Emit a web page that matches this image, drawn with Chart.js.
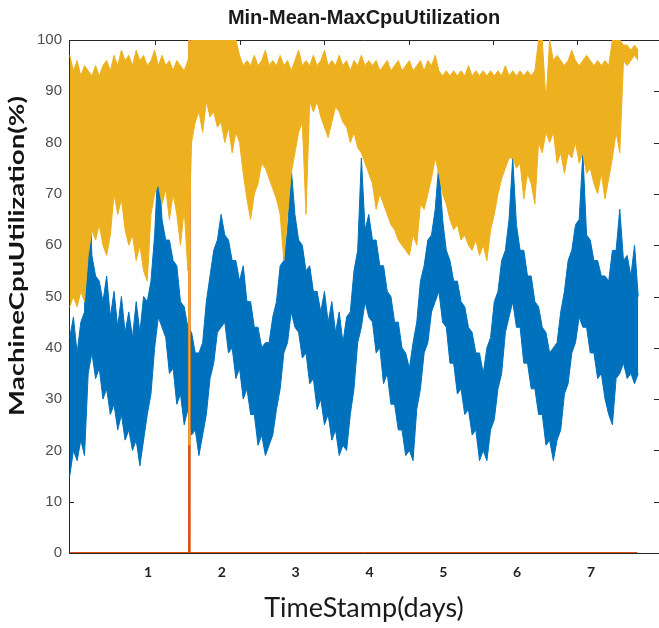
<!DOCTYPE html>
<html>
<head>
<meta charset="utf-8">
<title>Min-Mean-MaxCpuUtilization</title>
<script src="https://cdn.jsdelivr.net/npm/chart.js@4.4.1/dist/chart.umd.min.js"></script>
<style>
  body { margin: 0; background: #fff; }
</style>
</head>
<body>
<canvas id="cpuChart" width="659" height="628"></canvas>
<script>
// one sample every 0.05 day, first one just before day 0
const sampleStart = -0.06;
const sampleStep = 0.05;

// mean cpu: lower / upper edge of the noisy band
const meanLow = [
  15, 20, 18, 22, 19, 35, 39, 34, 36, 30,
  32, 27, 29, 24, 27, 22, 24, 20, 22, 17,
  22, 27, 31, 40, 46, 44, 42, 35, 36, 29,
  31, 25, 28, 23, 24, 19, 23, 27, 34, 37,
  43, 44, 45, 39, 40, 34, 36, 30, 32, 27,
  27, 21, 23, 19, 21, 23, 28, 32, 39, 41,
  47, 44, 43, 38, 39, 33, 34, 28, 30, 25,
  27, 22, 24, 19, 21, 20, 27, 32, 41, 44,
  49, 46, 45, 39, 40, 33, 35, 29, 29, 24,
  24, 19, 20, 18, 28, 32, 39, 41, 47, 49,
  51, 45, 44, 37, 37, 31, 32, 27, 28, 23,
  24, 18, 20, 18, 24, 26, 32, 35, 43, 46,
  49, 44, 44, 37, 37, 32, 32, 27, 27, 21,
  22, 18, 22, 24, 31, 33, 39, 41, 46, 44,
  44, 39, 39, 34, 35, 30, 27, 25, 34, 35,
  37, 34, 35, 33, 35
];
const meanHigh = [
  42, 46, 39, 45, 47, 77, 58, 54, 53, 49,
  54, 46, 51, 44, 50, 43, 47, 42, 49, 43,
  50, 49, 53, 62, 77, 65, 61, 61, 57, 56,
  49, 48, 44, 43, 39, 39, 41, 49, 54, 59,
  61, 66, 62, 61, 57, 57, 53, 56, 49, 49,
  44, 44, 40, 41, 41, 46, 49, 56, 57, 63,
  75, 66, 61, 60, 55, 56, 51, 51, 47, 51,
  45, 49, 43, 47, 41, 46, 47, 55, 59, 77,
  63, 66, 61, 61, 56, 56, 51, 50, 45, 45,
  40, 39, 36, 41, 45, 53, 56, 61, 62, 67,
  76, 65, 59, 57, 53, 53, 49, 48, 44, 43,
  39, 39, 35, 40, 42, 49, 51, 57, 59, 65,
  77, 64, 59, 59, 54, 54, 49, 48, 44, 43,
  39, 40, 41, 47, 51, 57, 59, 64, 65, 78,
  62, 61, 57, 57, 54, 54, 53, 59, 59, 67,
  57, 58, 54, 60, 50
];

// max cpu: lower / upper edge of the band
const maxLow = [
  48, 50, 48, 51, 49, 58, 63, 61, 64, 60,
  58, 62, 70, 66, 69, 63, 60, 62, 57, 60,
  55, 53, 66, 70, 72, 68, 71, 65, 70, 66,
  60, 67, 55, 80, 84, 86, 82, 88, 85, 86,
  83, 84, 80, 83, 78, 82, 80, 74, 69, 65,
  70, 72, 76, 75, 73, 71, 69, 66, 57, 66,
  74, 78, 82, 84, 66, 88, 86, 88, 85, 83,
  81, 84, 87, 86, 84, 83, 80, 82, 79, 78,
  76, 74, 72, 67, 70, 68, 66, 64, 63, 61,
  60, 59, 58, 62, 60, 68, 67, 70, 73, 77,
  74, 70, 68, 65, 63, 64, 61, 62, 60, 59,
  61, 58, 60, 57, 63, 66, 70, 73, 75, 77,
  77, 75, 76, 69, 74, 72, 68, 80, 78, 82,
  80, 82, 76, 78, 74, 78, 77, 80, 76, 78,
  74, 75, 72, 70, 74, 69, 73, 77, 82, 78,
  96, 95, 96, 97, 96
];
const maxHigh = [
  97, 94, 96, 93, 95, 94, 93, 95, 93, 95,
  96, 94, 97, 95, 98, 96, 97, 95, 98, 96,
  97, 95, 96, 98, 95, 97, 95, 96, 94, 96,
  95, 94, 96, 100, 100, 100, 100, 100, 100, 100,
  100, 100, 100, 100, 100, 100, 97, 95, 96, 95,
  97, 95, 96, 98, 95, 96, 95, 97, 95, 96,
  94, 96, 98, 95, 96, 95, 97, 95, 96, 98,
  95, 96, 95, 97, 95, 96, 94, 96, 95, 97,
  95, 96, 95, 96, 94, 95, 96, 94, 95, 96,
  94, 95, 96, 94, 95, 96, 94, 96, 95, 97,
  94, 93, 94, 93, 94, 93, 94, 93, 95, 93,
  94, 93, 94, 93, 94, 93, 94, 93, 95, 93,
  94, 93, 94, 93, 94, 93, 94, 100, 100, 88,
  100, 96, 97, 96, 95, 96, 98, 96, 95, 96,
  97, 96, 95, 96, 95, 96, 95, 100, 100, 100,
  99, 99, 98, 99, 98
];

// min cpu stays at 0 except for one spike
const minDays = [-0.06, 1.555, 1.56, 1.565, 7.63];
const minValues = [0, 0, 100, 0, 0];

// the max series drops once at the same moment
const maxDipDays = [1.56, 1.56];
const maxDipValues = [100, 21];

const dayLabels = [1, 2, 3, 4, 5, 6, 7];
const topTickDays = [1.10, 2.24, 3.39, 4.53, 5.67, 6.81];
const yTickValues = [0, 10, 20, 30, 40, 50, 60, 70, 80, 90, 100];

const BLUE = '#0072BD';
const RED = '#D95319';
const YELLOW = '#EDB120';
const AXIS = '#262626';

const days = meanHigh.map((_, i) => +(sampleStart + i * sampleStep).toFixed(2));
const toPoints = (xs, ys) => ys.map((y, i) => ({ x: xs[i], y: y }));

function bandLine(label, data, color, order, fill) {
  return {
    label: label,
    data: data,
    borderColor: color,
    backgroundColor: color,
    borderWidth: 1,
    pointRadius: 0,
    tension: 0,
    fill: fill,
    order: order
  };
}

// box lines and inward tick marks, like matlab's "box on"
const axesFrame = {
  id: 'axesFrame',
  beforeDatasetsDraw(chart) {
    const { ctx, chartArea: a, scales } = chart;
    ctx.save();
    ctx.strokeStyle = AXIS;
    ctx.lineWidth = 1;
    ctx.beginPath();
    ctx.moveTo(a.right, a.top + 0.5);
    ctx.lineTo(a.left + 0.5, a.top + 0.5);
    ctx.lineTo(a.left + 0.5, a.bottom + 0.5);
    ctx.lineTo(a.right, a.bottom + 0.5);
    yTickValues.forEach(v => {
      const py = Math.round(scales.y.getPixelForValue(v)) + 0.5;
      ctx.moveTo(a.left, py);
      ctx.lineTo(a.left + 5, py);
      ctx.moveTo(a.right, py);
      ctx.lineTo(a.right - 5, py);
    });
    topTickDays.forEach(d => {
      const px = Math.round(scales.x.getPixelForValue(d)) + 0.5;
      ctx.moveTo(px, a.top);
      ctx.lineTo(px, a.top + 5);
    });
    ctx.stroke();
    ctx.restore();
  },
  afterDraw(chart) {
    const ctx = chart.ctx;
    const text = 'MachineCpuUtilization(%)';
    ctx.save();
    ctx.font = 'bold 21px Lato';
    const w = ctx.measureText(text).width;
    ctx.translate(17, 256);
    ctx.rotate(-Math.PI / 2);
    ctx.scale(320 / w, 1);
    ctx.textAlign = 'center';
    ctx.textBaseline = 'middle';
    ctx.fillStyle = '#141414';
    ctx.fillText(text, 0, 0);
    ctx.restore();
  }
};

new Chart(document.getElementById('cpuChart').getContext('2d'), {
  type: 'line',
  data: {
    datasets: [
      bandLine('Max', toPoints(days, maxHigh), YELLOW, 1, '+1'),
      bandLine('Max low', toPoints(days, maxLow), YELLOW, 1, false),
      Object.assign(bandLine('Max dip', toPoints(maxDipDays, maxDipValues), YELLOW, 1, false), { borderWidth: 2 }),
      Object.assign(bandLine('Min', toPoints(minDays, minValues), RED, 2, false), { borderWidth: 2 }),
      bandLine('Mean', toPoints(days, meanHigh), BLUE, 3, '+1'),
      bandLine('Mean low', toPoints(days, meanLow), BLUE, 3, false)
    ]
  },
  options: {
    responsive: false,
    animation: false,
    devicePixelRatio: 1,
    layout: { padding: 0 },
    plugins: {
      legend: { display: false },
      tooltip: { enabled: false },
      title: {
        display: true,
        text: 'Min-Mean-MaxCpuUtilization',
        fullSize: false,
        color: '#1a1a1a',
        font: { family: 'Liberation Sans', size: 20, weight: 'bold' },
        padding: { top: 6, bottom: 10 }
      }
    },
    scales: {
      x: {
        type: 'linear',
        min: -0.070,
        max: 7.921,
        grid: { display: false, drawTicks: false },
        border: { display: false },
        afterBuildTicks: scale => { scale.ticks = dayLabels.map(v => ({ value: v })); },
        afterFit: scale => { scale.height = 75; },
        ticks: {
          color: '#222',
          font: { family: 'Lato', size: 14, weight: 'bold' },
          padding: 11,
          maxRotation: 0
        },
        title: {
          display: true,
          text: 'TimeStamp(days)',
          color: '#1a1a1a',
          font: { family: 'Lato', size: 27 },
          padding: { top: 0, bottom: 4 }
        }
      },
      y: {
        min: 0,
        max: 100,
        grid: { display: false, drawTicks: false },
        border: { display: false },
        afterFit: scale => { scale.width = 69; },
        ticks: {
          stepSize: 10,
          color: '#4d4d4d',
          font: { family: 'Liberation Sans', size: 15 },
          padding: 7
        }
      }
    }
  },
  plugins: [axesFrame]
});
</script>
</body>
</html>
